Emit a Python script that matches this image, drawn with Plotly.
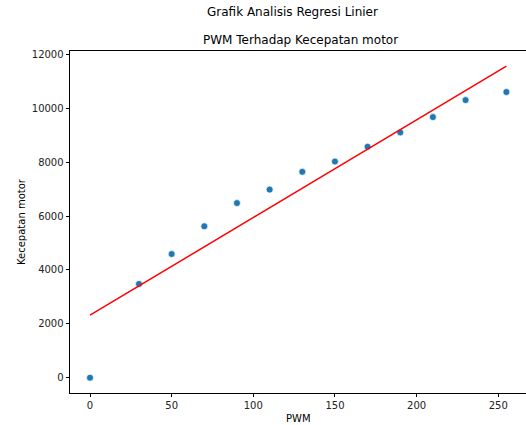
import plotly.graph_objects as go

# Data
pwm = [0, 30, 50, 70, 90, 110, 130, 150, 170, 190, 210, 230, 255]
kecepatan = [0, 3480, 4590, 5620, 6480, 6980, 7640, 8020, 8570, 9100, 9670, 10300, 10600]
# Regression line endpoints
line_x = [0, 255]
line_y = [2320, 11560]

x_ticks = [0, 50, 100, 150, 200, 250]
y_ticks = [0, 2000, 4000, 6000, 8000, 10000, 12000]

FONT = "DejaVu Sans"
W, H = 526, 425
ML, MR, MT, MB = 70, 0, 51, 32

fig = go.Figure()
fig.add_trace(go.Scatter(
    x=pwm, y=kecepatan, mode="markers",
    marker=dict(color="#1f77b4", size=7, line=dict(color="white", width=0.75)),
    showlegend=False, hoverinfo="skip",
))
fig.add_trace(go.Scatter(
    x=line_x, y=line_y, mode="lines",
    line=dict(color="red", width=1.5),
    showlegend=False, hoverinfo="skip",
))

axis_common = dict(
    showline=True, linecolor="black", linewidth=0.8,
    ticks="outside", ticklen=3.5, tickwidth=0.8, tickcolor="black",
    showgrid=False, zeroline=False,
    tickfont=dict(family=FONT, size=10, color="#222"),
)

fig.update_layout(
    width=W, height=H,
    margin=dict(l=ML, r=MR, t=MT, b=MB),
    plot_bgcolor="white", paper_bgcolor="white",
    font=dict(family=FONT, size=10, color="#222"),
    xaxis=dict(range=[-12.25, 267], tickvals=x_ticks, ticktext=[str(v) for v in x_ticks],
               mirror=True, **axis_common),
    yaxis=dict(range=[-567, 12122], tickvals=y_ticks, ticktext=[str(v) for v in y_ticks],
               mirror=False, **axis_common),
)

pw = W - ML - MR
ph = H - MT - MB

def px_x(px):
    return (px - ML) / pw

def px_y(py):
    return (H - MB - py) / ph

annos = [
    dict(text="Grafik Analisis Regresi Linier", x=px_x(292), y=px_y(12), size=12, angle=0),
    dict(text="PWM Terhadap Kecepatan motor", x=px_x(300), y=px_y(40), size=12, angle=0),
    dict(text="PWM", x=px_x(298), y=px_y(418), size=10, angle=0),
    dict(text="Kecepatan motor", x=px_x(21), y=px_y(222), size=10, angle=-90),
]
for a in annos:
    fig.add_annotation(
        text=a["text"], x=a["x"], y=a["y"], xref="paper", yref="paper",
        xanchor="center", yanchor="middle", showarrow=False, textangle=a["angle"],
        font=dict(family=FONT, size=a["size"], color="black"),
    )

fig.write_html(
    "out.html",
    config={"displayModeBar": False},
    post_script="document.body.style.margin='0';document.body.style.overflow='hidden';",
)
